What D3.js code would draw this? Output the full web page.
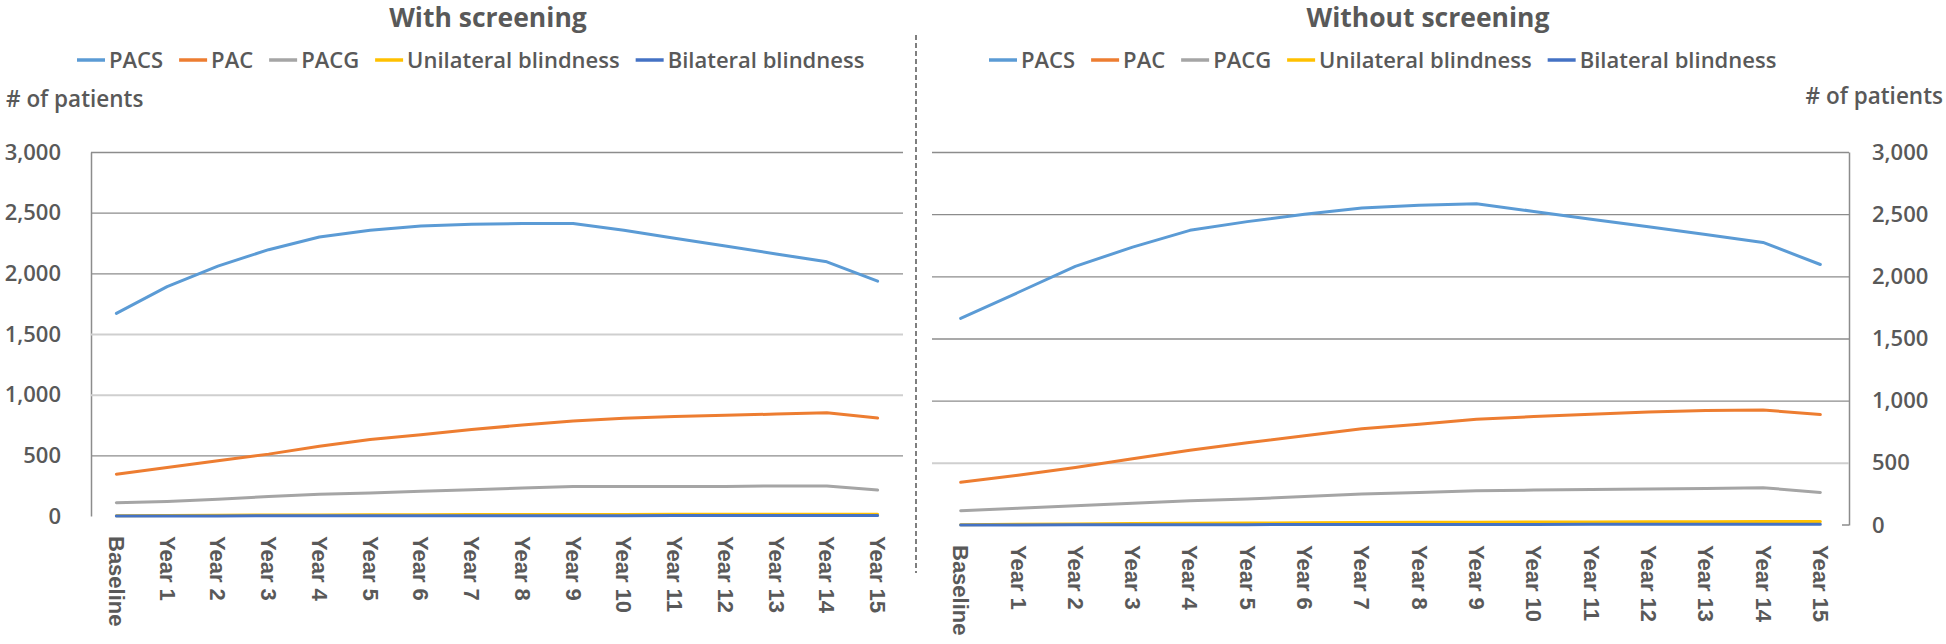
<!DOCTYPE html>
<html>
<head>
<meta charset="utf-8">
<script src="https://cdn.jsdelivr.net/npm/d3@7/dist/d3.min.js"></script>
<style>
  html, body { margin: 0; padding: 0; background: #ffffff; }
  svg { display: block; }
</style>
</head>
<body>
<svg id="chart" width="1946" height="644"></svg>
<script>
// ---------------- DATA ----------------
const categories = ["Baseline", "Year 1", "Year 2", "Year 3", "Year 4", "Year 5", "Year 6", "Year 7",
  "Year 8", "Year 9", "Year 10", "Year 11", "Year 12", "Year 13", "Year 14", "Year 15"];

const seriesNames = ["PACS", "PAC", "PACG", "Unilateral blindness", "Bilateral blindness"];

// With screening
const withPACS = [1670, 1890, 2060, 2195, 2300, 2355, 2390, 2405, 2410, 2410, 2355, 2290, 2225, 2160, 2095, 1935];
const withPAC  = [345, 400, 455, 510, 575, 630, 670, 712, 750, 782, 805, 820, 830, 840, 850, 807];
const withPACG = [110, 120, 138, 160, 180, 190, 203, 216, 230, 244, 244, 244, 244, 248, 248, 214];
const withUni  = [3, 5, 7, 8, 9, 10, 11, 12, 12, 13, 13, 14, 14, 15, 15, 15];
const withBi   = [0, 1, 1, 2, 2, 2, 3, 3, 3, 3, 3, 4, 4, 4, 4, 4];

// Without screening
const withoutPACS = [1662, 1870, 2080, 2235, 2370, 2440, 2500, 2550, 2572, 2583, 2522, 2460, 2398, 2336, 2273, 2095];
const withoutPAC  = [343, 400, 462, 532, 602, 662, 717, 775, 810, 850, 872, 890, 908, 920, 925, 888];
const withoutPACG = [115, 134, 155, 174, 195, 209, 230, 249, 262, 276, 281, 285, 289, 294, 300, 262];
const withoutUni  = [3, 6, 9, 12, 14, 16, 18, 20, 22, 23, 24, 25, 26, 27, 28, 28];
const withoutBi   = [0, 1, 2, 2, 3, 3, 4, 4, 5, 5, 5, 6, 6, 6, 7, 7];

const yTickValues = [0, 500, 1000, 1500, 2000, 2500, 3000];
const titles = ["With screening", "Without screening"];
const yAxisTitle = "# of patients";

// ---------------- STYLE ----------------
const colors = ["#5B9BD5", "#ED7D31", "#A5A5A5", "#FFC000", "#4472C4"];
const textColor = "#595959";
const uiFont = "'Open Sans', 'Noto Sans', sans-serif";
const tickFont = "'Liberation Sans', Arial, sans-serif";
const darkGrid = "#8c8c8c", lightGrid = "#cfcfcf";

const panels = [
  { data: [withPACS, withPAC, withPACG, withUni, withBi], title: titles[0],
    x0: 91, x1: 903, yTop: 152, yZero: 516, side: "left", titleX: 488, legendX: 77,
    yTitle: { x: 6, y: 107, anchor: "start" }, lightTicks: [1500, 1000] },
  { data: [withoutPACS, withoutPAC, withoutPACG, withoutUni, withoutBi], title: titles[1],
    x0: 932, x1: 1849, yTop: 152, yZero: 525, side: "right", titleX: 1428, legendX: 989,
    yTitle: { x: 1943, y: 104, anchor: "end" }, lightTicks: [500] }
];

const svg = d3.select("#chart");

panels.forEach(p => {
  const g = svg.append("g");
  const x = d3.scalePoint().domain(categories).range([p.x0, p.x1]).padding(0.5);
  const y = d3.scaleLinear().domain([0, 3000]).range([p.yZero, p.yTop]);

  // gridlines + y labels via axis
  const plotW = p.x1 - p.x0;
  const axis = (p.side === "left" ? d3.axisLeft(y).tickPadding(30) : d3.axisRight(y).tickPadding(23))
    .tickValues(yTickValues).tickSize(-plotW).tickSizeOuter(0).tickFormat(d3.format(","));
  const ag = g.append("g")
    .attr("transform", `translate(${p.side === "left" ? p.x0 : p.x1},0)`)
    .call(axis);
  ag.select(".domain").attr("stroke", "#8c8c8c").attr("stroke-width", 1.5);
  ag.selectAll(".tick line")
    .attr("stroke", d => d === 0 ? "none" : (p.lightTicks.includes(d) ? lightGrid : darkGrid))
    .attr("stroke-width", d => p.lightTicks.includes(d) ? 2 : 1.3);
  ag.selectAll(".tick text")
    .attr("fill", textColor)
    .style("font-family", uiFont).style("font-weight", 600).style("font-size", "22px");
  if (p.side === "right") {
    g.append("line").attr("x1", p.x1 - 7).attr("x2", p.x1).attr("y1", p.yZero).attr("y2", p.yZero)
      .attr("stroke", "#8c8c8c").attr("stroke-width", 1.5);
  }

  // x axis labels
  const xg = g.append("g").attr("transform", `translate(0,${p.yZero})`)
    .call(d3.axisBottom(x).tickSize(0));
  xg.select(".domain").remove();
  xg.selectAll(".tick text")
    .attr("y", 0).attr("x", 20).attr("dy", "0.36em")
    .attr("transform", "rotate(90)")
    .attr("text-anchor", "start")
    .attr("fill", textColor)
    .style("font-family", tickFont).style("font-weight", "bold").style("font-size", "22px");

  // series lines
  const line = d3.line().x((d, i) => x(categories[i])).y(d => y(d));
  p.data.forEach((vals, si) => {
    g.append("path").datum(vals)
      .attr("d", line)
      .attr("fill", "none")
      .attr("stroke", colors[si])
      .attr("stroke-width", 3)
      .attr("stroke-linejoin", "round")
      .attr("stroke-linecap", "round");
  });

  // title
  g.append("text").attr("x", p.titleX).attr("y", 27).attr("text-anchor", "middle")
    .attr("fill", textColor)
    .style("font-family", uiFont).style("font-weight", 700).style("font-size", "26.5px")
    .text(p.title);

  // y axis title
  g.append("text").attr("x", p.yTitle.x).attr("y", p.yTitle.y).attr("text-anchor", p.yTitle.anchor)
    .attr("fill", textColor)
    .style("font-family", uiFont).style("font-weight", 600).style("font-size", "22.5px")
    .text(yAxisTitle);

  // legend
  let lx = p.legendX;
  seriesNames.forEach((name, si) => {
    g.append("line").attr("x1", lx).attr("x2", lx + 28).attr("y1", 60).attr("y2", 60)
      .attr("stroke", colors[si]).attr("stroke-width", 3.5);
    const t = g.append("text").attr("x", lx + 32).attr("y", 67.5)
      .attr("fill", textColor)
      .style("font-family", uiFont).style("font-weight", 600).style("font-size", "22px")
      .text(name);
    lx += 32 + t.node().getComputedTextLength() + 16;
  });
});

// dashed divider
svg.append("line").attr("x1", 916).attr("x2", 916).attr("y1", 35).attr("y2", 573)
  .attr("stroke", "#555").attr("stroke-width", 1.5).attr("stroke-dasharray", "5,3");
</script>
</body>
</html>
